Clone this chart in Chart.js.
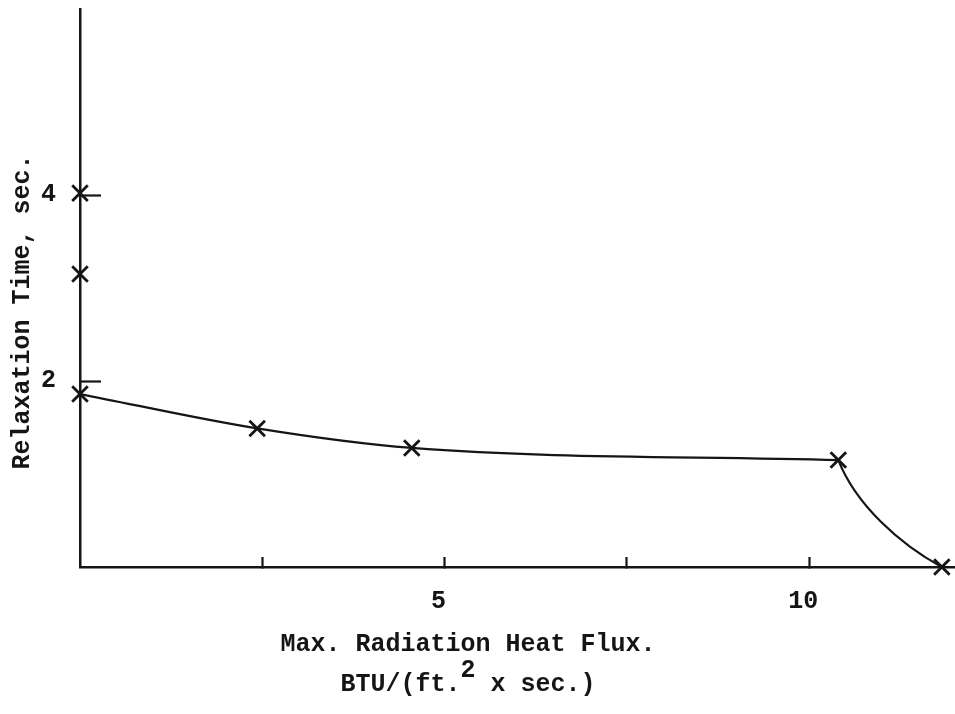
<!DOCTYPE html>
<html>
<head>
<meta charset="utf-8">
<title>Relaxation Time vs. Max. Radiation Heat Flux</title>
<script src="https://cdn.jsdelivr.net/npm/chart.js@4.4.1/dist/chart.umd.min.js"></script>
<style>
  html, body { margin: 0; padding: 0; background: #fff; }
  #wrap { width: 955px; height: 714px; }
</style>
</head>
<body>
<div id="wrap"><canvas id="relaxChart" width="955" height="714"></canvas></div>
<script>
// Measured points, heat flux in BTU/(ft.^2 x sec.), relaxation time in sec.
const curveFlux = [0, 2.43, 4.55, 10.4];
const curveTime = [1.86, 1.49, 1.28, 1.15];
const tailFlux = [10.4, 11.82];
const tailTime = [1.15, 0];
// extra readings at zero flux that sit off the curve
const zeroFluxTime = [3.15, 4.02];

const xTickValues = [2.5, 5, 7.5, 10];
const xTickLabels = ['', '5', '', '10'];
const yTickValues = [2, 4];
const yTickLabels = ['2', '4'];

const ink = '#151515';
const fontFamily = "'Liberation Mono', 'DejaVu Sans Mono', monospace";

const toPoints = (xs, ys) => xs.map((x, i) => ({ x: x, y: ys[i] }));

const curvePts = toPoints(curveFlux, curveTime);
const tailPts = toPoints(tailFlux, tailTime);
const markerPts = curvePts
  .concat(zeroFluxTime.map(t => ({ x: 0, y: t })))
  .concat(tailPts.slice(1));

// The drop after the last plateau point bends the other way: steep first,
// flattening as it reaches the axis. Bend the tail's bezier handles for that.
const tailBend = {
  id: 'tailBend',
  beforeDatasetDraw(chart, args) {
    if (args.index !== 1) return;
    const meta = args.meta;
    meta.dataset.updateControlPoints(chart.chartArea, meta.indexAxis);
    const a = meta.data[0];
    const b = meta.data[1];
    const dx = b.x - a.x;
    const dy = b.y - a.y;
    a.cp2x = a.x + 0.17 * dx;
    a.cp2y = a.y + 0.42 * dy;
    b.cp1x = b.x - 0.40 * dx;
    b.cp1y = b.y - 0.21 * dy;
  }
};

// Axis titles, typed below and beside the axes
const axisTitles = {
  id: 'axisTitles',
  afterDraw(chart) {
    const c = chart.ctx;
    c.save();
    c.fillStyle = ink;
    c.font = 'bold 25px ' + fontFamily;

    // y title, rotated
    c.save();
    c.translate(23, 312);
    c.rotate(-Math.PI / 2);
    c.textAlign = 'center';
    c.textBaseline = 'middle';
    c.fillText('Relaxation Time, sec.', 0, 0);
    c.restore();

    // x title, two lines with a raised exponent on the second
    const cx = 468;
    c.textBaseline = 'alphabetic';
    c.textAlign = 'center';
    c.fillText('Max. Radiation Heat Flux.', cx, 651);

    const partA = 'BTU/(ft.';
    const partB = '2';
    const partC = ' x sec.)';
    const wA = c.measureText(partA).width;
    const wB = c.measureText(partB).width;
    const wC = c.measureText(partC).width;
    let x = cx - (wA + wB + wC) / 2;
    c.textAlign = 'left';
    c.fillText(partA, x, 691);
    x += wA;
    c.fillText(partB, x, 677);
    x += wB;
    c.fillText(partC, x, 691);
    c.restore();
  }
};

// keep the axes' label room from eating into the plotting area
const noScalePadding = scale => {
  scale.paddingTop = 0;
  scale.paddingBottom = 0;
  scale.paddingLeft = 0;
  scale.paddingRight = 0;
};

const ctx = document.getElementById('relaxChart').getContext('2d');
const relaxChart = new Chart(ctx, {
  type: 'scatter',
  data: {
    datasets: [
      {
        label: 'curve',
        data: curvePts,
        showLine: true,
        cubicInterpolationMode: 'monotone',
        borderColor: ink,
        borderWidth: 2.2,
        pointRadius: 0
      },
      {
        label: 'tail',
        data: tailPts,
        showLine: true,
        tension: 0.4,
        borderColor: ink,
        borderWidth: 2.2,
        pointRadius: 0
      },
      {
        label: 'measured',
        data: markerPts,
        showLine: false,
        clip: false,
        pointStyle: 'crossRot',
        pointRadius: 11,
        borderColor: ink,
        borderWidth: 2.8
      }
    ]
  },
  options: {
    responsive: false,
    animation: false,
    layout: { autoPadding: false, padding: { top: 9, left: 0, right: 0, bottom: 0 } },
    plugins: {
      legend: { display: false },
      tooltip: { enabled: false }
    },
    scales: {
      x: {
        type: 'linear',
        min: 0,
        max: 12,
        afterBuildTicks: scale => { scale.ticks = xTickValues.map(v => ({ value: v })); },
        afterFit: scale => { scale.height = 147; noScalePadding(scale); },
        border: { color: ink, width: 2.5 },
        grid: {
          drawOnChartArea: false,
          drawTicks: true,
          tickLength: -10,
          tickColor: ink,
          tickWidth: 2.2
        },
        ticks: {
          autoSkip: false,
          maxRotation: 0,
          padding: 30,
          labelOffset: -6,
          color: ink,
          font: { family: fontFamily, size: 25, weight: 'bold' },
          callback: (value, index) => xTickLabels[index]
        }
      },
      y: {
        type: 'linear',
        min: 0,
        max: 6,
        afterBuildTicks: scale => { scale.ticks = yTickValues.map(v => ({ value: v })); },
        afterFit: scale => { scale.width = 80; noScalePadding(scale); },
        border: { color: ink, width: 2.5 },
        grid: {
          drawOnChartArea: false,
          drawTicks: true,
          tickLength: -21,
          tickColor: ink,
          tickWidth: 2.2
        },
        ticks: {
          padding: 45,
          color: ink,
          font: { family: fontFamily, size: 25, weight: 'bold' },
          callback: (value, index) => yTickLabels[index]
        }
      }
    }
  },
  plugins: [tailBend, axisTitles]
});
</script>
</body>
</html>
